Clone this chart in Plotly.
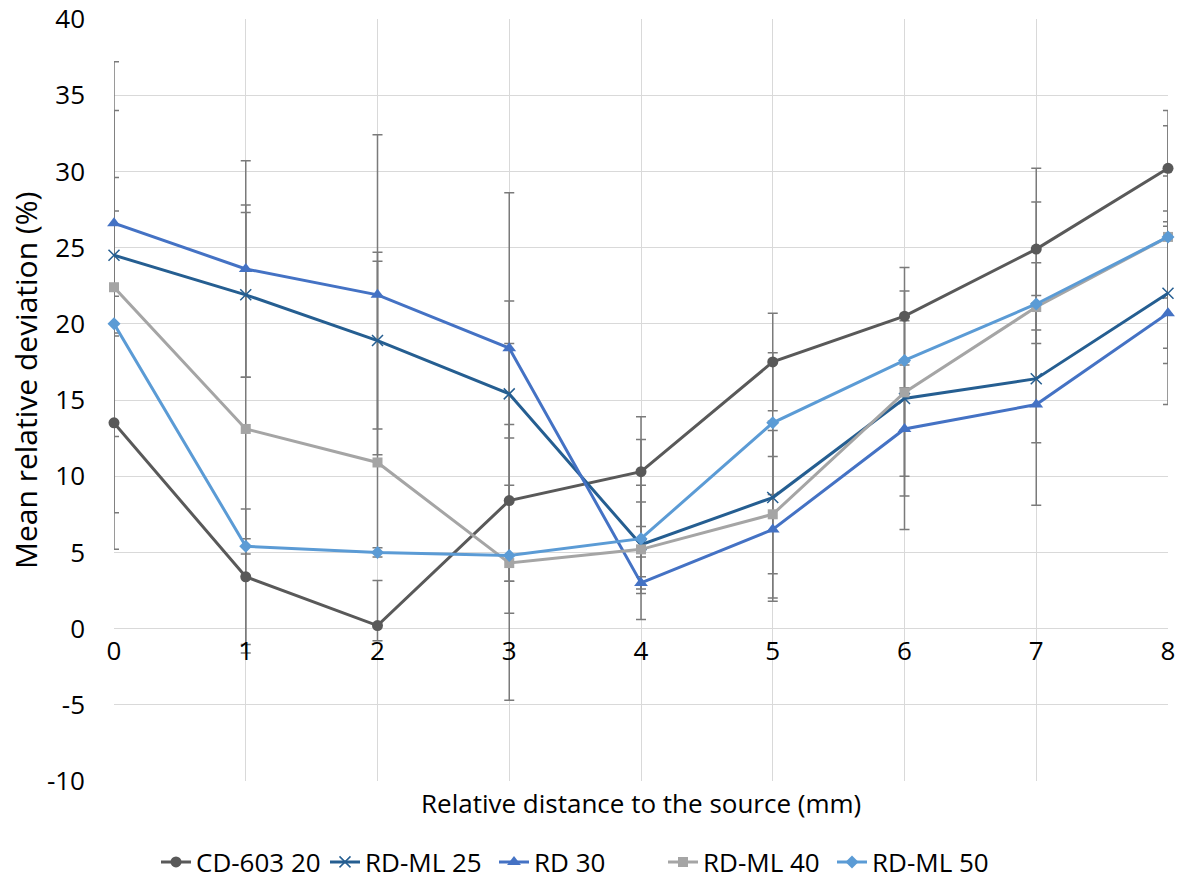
import plotly.graph_objects as go

# ---------------- data ----------------
distance = [0, 1, 2, 3, 4, 5, 6, 7, 8]

series_names = ["CD-603 20", "RD-ML 25", "RD 30", "RD-ML 40", "RD-ML 50"]

cd603_20 = [13.5, 3.4, 0.2, 8.4, 10.3, 17.5, 20.5, 24.9, 30.2]
rdml_25 = [24.5, 21.9, 18.9, 15.4, 5.5, 8.6, 15.1, 16.4, 22.0]
rd_30 = [26.6, 23.6, 21.9, 18.4, 3.0, 6.5, 13.1, 14.7, 20.7]
rdml_40 = [22.4, 13.1, 10.9, 4.3, 5.2, 7.5, 15.5, 21.1, 25.7]
rdml_50 = [20.0, 5.4, 5.0, 4.8, 5.9, 13.5, 17.6, 21.3, 25.7]

# error bars (upper / lower)
cd603_20_err_plus = [8.3, 4.45, 2.95, 13.1, 3.6, 3.2, 3.2, 5.3, 3.8]
cd603_20_err_minus = [8.3, 4.45, 1.0, 13.1, 3.6, 3.2, 3.2, 5.3, 3.8]
rdml_25_err_plus = [5.1, 5.4, 5.8, 13.2, 3.9, 5.0, 5.1, 5.45, 5.4]
rdml_25_err_minus = [5.1, 5.4, 5.8, 12.3, 3.2, 5.0, 5.1, 4.2, 4.6]
rd_30_err_plus = [7.4, 7.1, 10.5, 0.3, 0.4, 4.8, 4.4, 6.6, 6.0]
rd_30_err_minus = [7.4, 7.1, 10.5, 5.9, 0.4, 4.7, 4.4, 6.6, 6.0]
rdml_40_err_plus = [14.8, 14.7, 13.2, 9.1, 3.1, 5.5, 0.3, 2.9, 7.3]
rdml_40_err_minus = [14.8, 14.7, 5.9, 3.3, 0.5, 5.5, 9.0, 2.4, 7.3]
rdml_50_err_plus = [7.4, 0.5, 0.3, 4.6, 6.5, 4.6, 4.55, 6.7, 4.0]
rdml_50_err_minus = [7.4, 0.5, 0.3, 1.7, 5.3, 4.7, 4.55, 6.7, 4.0]

values = [cd603_20, rdml_25, rd_30, rdml_40, rdml_50]
err_plus = [cd603_20_err_plus, rdml_25_err_plus, rd_30_err_plus, rdml_40_err_plus, rdml_50_err_plus]
err_minus = [cd603_20_err_minus, rdml_25_err_minus, rd_30_err_minus, rdml_40_err_minus, rdml_50_err_minus]

x_tick_values = [0, 1, 2, 3, 4, 5, 6, 7, 8]
y_tick_values = [-10, -5, 0, 5, 10, 15, 20, 25, 30, 35, 40]
y_tick_labels = ["-10", "-5", "0", "5", "10", "15", "20", "25", "30", "35", "40"]

# ---------------- styles ----------------
colors = ["#595959", "#255E91", "#4472C4", "#A5A5A5", "#5B9BD5"]
symbols = ["circle", "x-thin", "triangle-up", "square", "diamond"]
sizes = [11, 11, 12, 10, 10]
ERR_COLOR = "#7A7A7A"
FONT = "Open Sans, Noto Sans, sans-serif"

fig = go.Figure()

# error bars first (drawn beneath all lines)
for i, name in enumerate(series_names):
    fig.add_trace(go.Scatter(
        x=distance, y=values[i], mode="markers",
        marker=dict(size=1, opacity=0),
        error_y=dict(type="data", symmetric=False,
                     array=err_plus[i], arrayminus=err_minus[i],
                     color=ERR_COLOR, thickness=1.5, width=5),
        showlegend=False, hoverinfo="skip",
    ))

for i, name in enumerate(series_names):
    marker = dict(symbol=symbols[i], size=sizes[i], color=colors[i])
    if symbols[i] == "x-thin":
        marker["line"] = dict(color=colors[i], width=1.5)
    fig.add_trace(go.Scatter(
        x=distance, y=values[i], mode="lines+markers", name=name,
        line=dict(color=colors[i], width=3),
        marker=marker, cliponaxis=False,
    ))

W, H = 1183, 881
ML, MR, MT, MB = 114, 15, 19, 100
plot_w = W - ML - MR
plot_h = H - MT - MB

def px_to_paper_x(px):
    return (px - ML) / plot_w

def px_to_paper_y(py):
    return (H - MB - py) / plot_h

fig.update_layout(
    width=W, height=H,
    margin=dict(l=ML, r=MR, t=MT, b=MB, autoexpand=False),
    paper_bgcolor="white", plot_bgcolor="white",
    font=dict(family=FONT, color="#000000", size=20),
    xaxis=dict(
        range=[0, 8], tickvals=x_tick_values, ticks="",
        showgrid=True, gridcolor="#D9D9D9", gridwidth=1,
        zeroline=False, showline=False, automargin=False,
        anchor="free", position=0.2,
        tickfont=dict(size=26, family=FONT, color="#000000"),
        ticklabelstandoff=4,
    ),
    yaxis=dict(
        range=[-10, 40], tickvals=y_tick_values, ticktext=y_tick_labels, ticks="",
        showgrid=True, gridcolor="#D9D9D9", gridwidth=1,
        zeroline=False, showline=False, automargin=False,
        domain=[0, 1],
        tickfont=dict(size=26, family=FONT, color="#000000"),
        ticklabelstandoff=28,
    ),
    legend=dict(
        orientation="h", x=px_to_paper_x(156), xanchor="left",
        y=px_to_paper_y(862), yanchor="middle",
        font=dict(size=26, family=FONT, color="#000000"),
        bgcolor="rgba(0,0,0,0)",
        itemwidth=30, entrywidth=124, entrywidthmode="pixels",
    ),
    annotations=[
        dict(text="Relative distance to the source (mm)", xref="paper", yref="paper",
             x=px_to_paper_x(641), y=px_to_paper_y(803), xanchor="center", yanchor="middle",
             showarrow=False, font=dict(size=26, family=FONT, color="#000000")),
        dict(text="Mean relative deviation (%)", xref="paper", yref="paper",
             x=px_to_paper_x(25), y=px_to_paper_y(381), xanchor="center", yanchor="middle",
             textangle=-90, showarrow=False, font=dict(size=30, family=FONT, color="#000000")),
    ],
)

fig.write_html("out.html", config={"displayModeBar": False},
               post_script="document.body.style.margin='0px';")
